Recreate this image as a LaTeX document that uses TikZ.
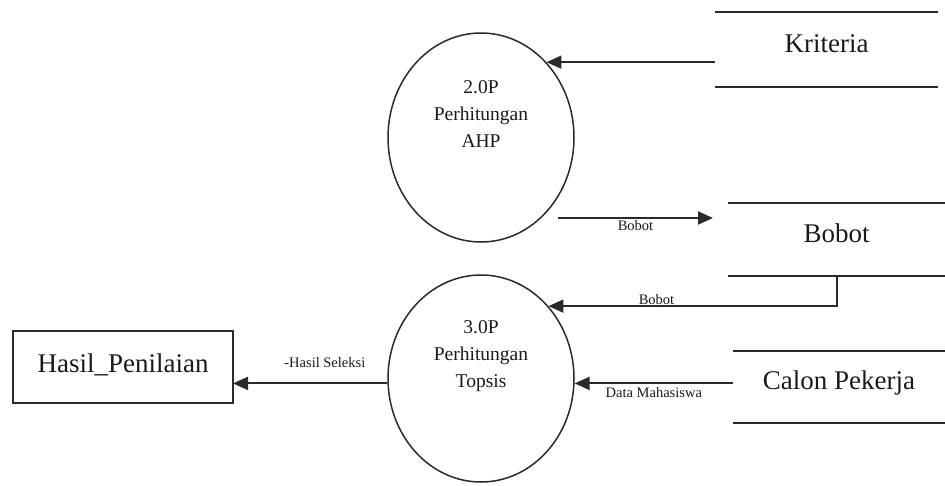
\documentclass[tikz,border=0pt]{standalone}
\usepackage{fontspec}
\setmainfont{Liberation Serif}
\usetikzlibrary{arrows.meta,shapes.geometric}
\definecolor{ink}{HTML}{1A1A1A}
\definecolor{edgec}{HTML}{2A2A2A}
\begin{document}
\begin{tikzpicture}[x=1pt,y=-1pt,
  proc/.style={ellipse,draw=edgec,line width=1.5pt,inner sep=0pt,minimum width=186pt},
  ptext/.style={align=center,text=ink,font=\fontsize{19.5}{27}\selectfont,inner sep=0pt},
  store/.style={inner sep=0pt,outer sep=0pt,text=ink,font=\fontsize{27}{30}\selectfont,text height=18pt,text depth=13pt},
  storeline/.style={draw=edgec,line width=2pt},
  ext/.style={draw=edgec,line width=1.6pt,inner sep=0pt,outer sep=0pt,minimum width=220pt,minimum height=72pt,text=ink,font=\fontsize{27}{30}\selectfont,text height=18pt,text depth=8pt},
  flow/.style={draw=edgec,line width=2pt,-{Triangle[length=15pt,width=13pt]}},
  lbl/.style={text=ink,font=\fontsize{14.5}{16}\selectfont,inner sep=0pt}
]
\useasboundingbox (0,0) rectangle (945,485);

% processes
\node[proc,minimum height=209pt] (p2) at (481,137.5) {};
\node[ptext] (p2t) at ([yshift=23pt]p2.center) {2.0P\\Perhitungan\\AHP};
\node[proc,minimum height=207pt] (p3) at (481,378.5) {};
\node[ptext] (p3t) at ([yshift=22pt]p3.center) {3.0P\\Perhitungan\\Topsis};

% data stores
\node[store,minimum width=223pt,minimum height=75pt] (krit) at (826.5,49.5) {Kriteria};
\draw[storeline] (krit.north west) -- (krit.north east) (krit.south west) -- (krit.south east);
\node[store,minimum width=217pt,minimum height=73pt] (bob) at (836.5,239.5) {Bobot};
\draw[storeline] (bob.north west) -- (bob.north east) (bob.south west) -- (bob.south east);
\node[store,minimum width=212pt,minimum height=72pt] (cal) at (839,387) {Calon Pekerja};
\draw[storeline] (cal.north west) -- (cal.north east) (cal.south west) -- (cal.south east);

% external entity
\node[ext] (hasil) at (123,367) {Hasil\_Penilaian};

% flows
\draw[flow] (krit.west |- p2.49) -- (p2.49);
\coordinate (b1s) at (558,218);
\coordinate (b1e) at (713,218);
\draw[flow] (b1s) -- node[lbl,yshift=-8pt] (lb1) {Bobot} (b1e);
\draw[flow] (bob.south) |- node[lbl,pos=0.8125,yshift=7pt] (lb2) {Bobot} (p3.47.5);
\draw[flow] (cal.west |- p3.-3) -- node[lbl,yshift=-9pt] (lb3) {Data Mahasiswa} (p3.-3);
\draw[flow] (p3.183) -- node[lbl,pos=0.405,yshift=21pt] (lb4) {-Hasil Seleksi} (hasil.east |- p3.183);
\end{tikzpicture}
\end{document}
